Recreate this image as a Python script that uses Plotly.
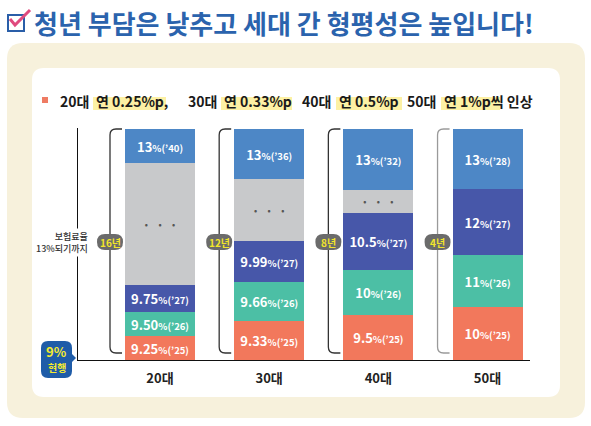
import plotly.graph_objects as go

categories = ["20대", "30대", "40대", "50대"]

# segment heights, bottom -> top
h_2025 = [24, 39, 45, 53]
h_2026 = [24, 39, 45, 52]
h_2027 = [27, 41, 57, 66]
h_gap = [122, 62, 23, 0]
h_13 = [34, 50, 61, 60]

rate_2025 = ["9.25", "9.33", "9.5", "10"]
rate_2026 = ["9.50", "9.66", "10", "11"]
rate_2027 = ["9.75", "9.99", "10.5", "12"]
year_13 = ["40", "36", "32", "28"]
years_to_13 = ["16년", "12년", "8년", "4년"]

FONT = "Noto Sans CJK KR"

# plot area in figure pixels
L, R, T, B = 78, 530, 128, 360
PW, PH = R - L, B - T
X_RANGE = [-0.751, 3.389]
PPX = PW / (X_RANGE[1] - X_RANGE[0])
BAR_W = 0.641


def fx(px):
    return (px - L) / PW


def fy(py):
    return (B - py) / PH


def rrect(x0, y0, x1, y1, r):
    pts = [("M", [(x0 + r, y0)]), ("L", [(x1 - r, y0)]), ("Q", [(x1, y0), (x1, y0 + r)]),
           ("L", [(x1, y1 - r)]), ("Q", [(x1, y1), (x1 - r, y1)]), ("L", [(x0 + r, y1)]),
           ("Q", [(x0, y1), (x0, y1 - r)]), ("L", [(x0, y0 + r)]), ("Q", [(x0, y0), (x0 + r, y0)])]
    s = ""
    for cmd, ps in pts:
        s += cmd + " " + " ".join("%.5f,%.5f" % (fx(a), fy(b)) for a, b in ps) + " "
    return s + "Z"


def seg_label(rate, yy):
    return "%s<span style='font-size:9.5px'>%%(’%s)</span>" % (rate, yy)


segments = [
    (h_2025, [seg_label(r, "25") for r in rate_2025], "#f2785c", "white"),
    (h_2026, [seg_label(r, "26") for r in rate_2026], "#4cbfa5", "white"),
    (h_2027, [seg_label(r, "27") for r in rate_2027], "#4757a9", "white"),
    (h_gap, ["·  ·  ·" if h > 0 else "" for h in h_gap], "#c8c9cb", "#555555"),
    (h_13, [seg_label("13", y) for y in year_13], "#4d87c6", "white"),
]

x_idx = list(range(len(categories)))
fig = go.Figure()
for heights, texts, color, tcolor in segments:
    fig.add_trace(go.Bar(
        x=x_idx, y=heights, width=BAR_W, text=texts,
        marker=dict(color=color, line=dict(width=0)),
        textposition="inside", insidetextanchor="middle", textangle=0,
        constraintext="none", cliponaxis=False,
        textfont=dict(family=FONT, size=13, color=tcolor, weight=700),
        hoverinfo="skip", showlegend=False))

shapes = [
    # outer beige panel and inner white card
    dict(type="path", xref="paper", yref="paper", path=rrect(7, 43, 585, 418, 16),
         fillcolor="#f7f1dc", line=dict(width=0), layer="below"),
    dict(type="path", xref="paper", yref="paper", path=rrect(32, 68, 560, 397, 12),
         fillcolor="white", line=dict(width=0), layer="below"),
    # title checkbox
    dict(type="rect", xref="paper", yref="paper", x0=fx(8), x1=fx(24), y0=fy(31), y1=fy(15),
         line=dict(color="#2a5ea8", width=2)),
    dict(type="path", xref="paper", yref="paper",
         path="M %f,%f L %f,%f L %f,%f" % (fx(10), fy(19), fx(15), fy(25), fx(30), fy(10)),
         line=dict(color="#e04a7e", width=3)),
    # subtitle bullet
    dict(type="rect", xref="paper", yref="paper", x0=fx(42), x1=fx(48), y0=fy(103), y1=fy(97),
         fillcolor="#ef7b63", line=dict(width=0)),
    # 9% badge
    dict(type="path", xref="paper", yref="paper", path=rrect(41, 341, 72, 378, 7),
         fillcolor="#1f5ca8", line=dict(width=0)),
    dict(type="path", xref="paper", yref="paper",
         path="M %f,%f L %f,%f L %f,%f Z" % (fx(71), fy(353), fx(76), fy(358), fx(71), fy(363)),
         fillcolor="#1f5ca8", line=dict(width=0)),
]

# yellow highlights behind the subtitle
highlights = [(93, 166), (221, 292), (336, 402), (441, 500)]
for a, b in highlights:
    shapes.append(dict(type="rect", xref="paper", yref="paper", x0=fx(a), x1=fx(b),
                       y0=fy(110), y1=fy(97), fillcolor="#fdf1a4", line=dict(width=0),
                       layer="below"))

# brackets and year badges
top, bot = 231, 7
rx, ry = 6 / PPX, 6
bracket_colors = ["#333333", "#333333", "#333333", "#9a9a9a"]
for i in x_idx:
    xb = i - BAR_W / 2 - 15 / PPX
    xs = i - BAR_W / 2 - 3 / PPX
    shapes.append(dict(
        type="path", xref="x", yref="y",
        path="M %f,%f L %f,%f Q %f,%f %f,%f L %f,%f Q %f,%f %f,%f L %f,%f" % (
            xs, top, xb + rx, top, xb, top, xb, top - ry, xb, bot + ry, xb, bot, xb + rx, bot, xs, bot),
        line=dict(color=bracket_colors[i], width=1.3)))
    shapes.append(dict(
        type="path", xref="x", yref="y", xsizemode="pixel", ysizemode="pixel",
        xanchor=xb, yanchor=118,
        path="M -5,8 L 5,8 Q 13,8 13,0 Q 13,-8 5,-8 L -5,-8 Q -13,-8 -13,0 Q -13,8 -5,8 Z",
        fillcolor="#6b6b6b", line=dict(width=0)))

annotations = [
    dict(text="청년 부담은 낮추고 세대 간 형평성은 높입니다!", xref="paper", yref="paper",
         x=fx(32), y=fy(22), xanchor="left", yanchor="middle", showarrow=False,
         font=dict(family=FONT, size=26, color="#2b63ad", weight=700)),
    dict(text="보험료율<br>13%되기까지", xref="paper", yref="paper", x=fx(90), y=fy(242),
         xanchor="right", yanchor="middle", align="right", showarrow=False,
         bgcolor="white", borderpad=1,
         font=dict(family=FONT, size=9, color="#333333", weight=500)),
    dict(text="9%", xref="paper", yref="paper", x=fx(56.5), y=fy(351), showarrow=False,
         xanchor="center", yanchor="middle",
         font=dict(family=FONT, size=13, color="#f4ea2e", weight=700)),
    dict(text="현행", xref="paper", yref="paper", x=fx(56.5), y=fy(367), showarrow=False,
         xanchor="center", yanchor="middle",
         font=dict(family=FONT, size=10, color="#f4ea2e", weight=700)),
]

# subtitle, split so the highlighted parts line up with their yellow bands
sub_plain = [("20대", 91), ("30대", 219), ("40대", 333), ("50대", 438)]
sub_hl = [("연 0.25%p,", 94), ("연 0.33%p", 222), ("연 0.5%p", 337), ("연 1%p씩 인상", 442)]
for txt, px in sub_plain:
    annotations.append(dict(text=txt, xref="paper", yref="paper", x=fx(px), y=fy(101),
                            xanchor="right", yanchor="middle", showarrow=False,
                            font=dict(family=FONT, size=14, color="#1a1a1a", weight=700)))
for txt, px in sub_hl:
    annotations.append(dict(text=txt, xref="paper", yref="paper", x=fx(px), y=fy(101),
                            xanchor="left", yanchor="middle", showarrow=False,
                            font=dict(family=FONT, size=14, color="#1a1a1a", weight=700)))

for i in x_idx:
    annotations.append(dict(text=years_to_13[i], x=i - BAR_W / 2 - 15 / PPX, y=118,
                            xref="x", yref="y", showarrow=False,
                            font=dict(family=FONT, size=10, color="#f2e52a", weight=700)))

fig.update_layout(
    width=591, height=426, autosize=False,
    margin=dict(l=L, r=591 - R, t=T, b=426 - B, pad=0),
    paper_bgcolor="white", plot_bgcolor="rgba(0,0,0,0)",
    barmode="stack", hovermode=False,
    xaxis=dict(range=X_RANGE, tickvals=x_idx, ticktext=categories, showgrid=False,
               zeroline=False, showline=True, linecolor="#111111", linewidth=1.2,
               ticks="", ticklabelstandoff=6,
               tickfont=dict(family=FONT, size=13, color="#222222", weight=700),
               fixedrange=True),
    yaxis=dict(range=[0, PH], showgrid=False, zeroline=False, showline=True,
               linecolor="#111111", linewidth=1.2, showticklabels=False, ticks="",
               fixedrange=True),
    shapes=shapes, annotations=annotations,
)

# page body has a default 8px margin; drop it so the figure sits at the window origin
fig.write_html("out.html", config={"displayModeBar": False},
               post_script="document.body.style.margin = '0';")
